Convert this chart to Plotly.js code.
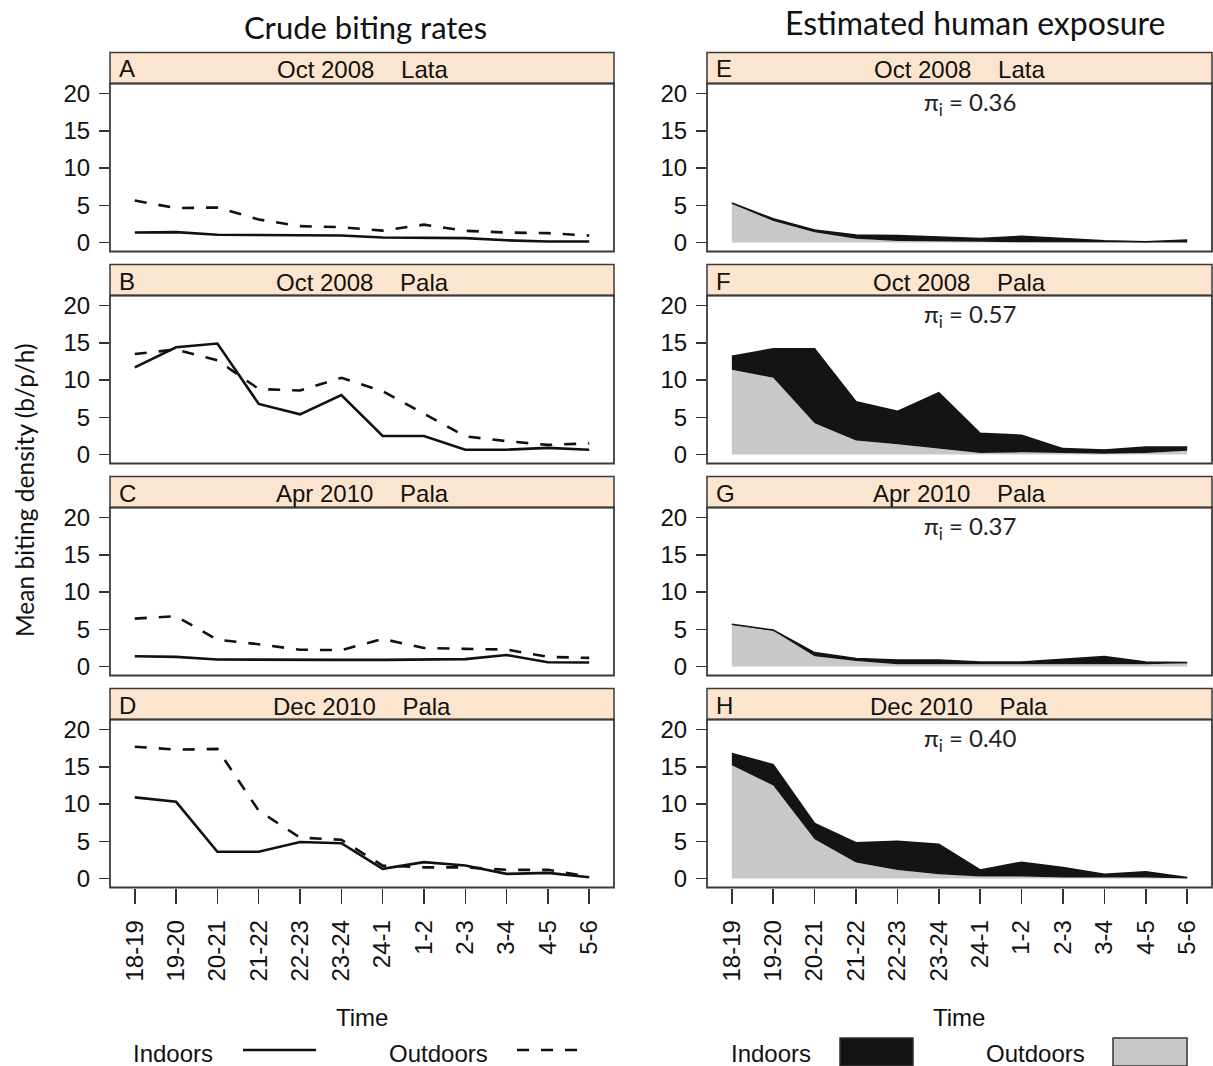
<!DOCTYPE html>
<html>
<head>
<meta charset="utf-8">
<script src="https://cdn.plot.ly/plotly-3.0.1.min.js"></script>
<style>html,body{margin:0;padding:0;background:#fff;}#chart{width:1213px;height:1066px;}</style>
</head>
<body>
<div id="chart"></div>
<script>
// ---------- data ----------
const times = ['18-19','19-20','20-21','21-22','22-23','23-24','24-1','1-2','2-3','3-4','4-5','5-6'];

// Crude biting rates (b/p/h)
const A_in  = [1.35, 1.4, 1.05, 1.0, 1.0, 0.95, 0.67, 0.67, 0.6, 0.3, 0.15, 0.15];
const A_out = [5.65, 4.62, 4.71, 3.1, 2.2, 2.06, 1.6, 2.4, 1.57, 1.35, 1.26, 0.94];
const B_in  = [11.7, 14.4, 14.9, 6.8, 5.4, 8.0, 2.5, 2.5, 0.65, 0.65, 0.9, 0.65];
const B_out = [13.5, 14.1, 12.65, 8.8, 8.6, 10.3, 8.5, 5.5, 2.45, 1.8, 1.3, 1.5];
const C_in  = [1.39, 1.3, 0.95, 0.9, 0.9, 0.9, 0.9, 0.9, 1.0, 1.55, 0.58, 0.55];
const C_out = [6.44, 6.75, 3.6, 3.0, 2.26, 2.2, 3.7, 2.5, 2.37, 2.28, 1.3, 1.16];
const D_in  = [10.9, 10.3, 3.6, 3.6, 4.9, 4.75, 1.3, 2.2, 1.75, 0.63, 0.76, 0.18];
const D_out = [17.7, 17.3, 17.4, 9.1, 5.5, 5.2, 1.74, 1.5, 1.5, 1.17, 1.17, 0.27];

// Estimated human exposure (stacked: outdoor component + indoor component)
const E_out = [5.2, 2.9, 1.4, 0.5, 0.2, 0.1, 0.1, 0.05, 0.05, 0.05, 0.0, 0.0];
const E_in  = [0.1, 0.3, 0.3, 0.5, 0.75, 0.65, 0.45, 0.8, 0.5, 0.2, 0.1, 0.35];
const F_out = [11.4, 10.3, 4.2, 1.9, 1.4, 0.8, 0.2, 0.3, 0.2, 0.1, 0.2, 0.5];
const F_in  = [1.8, 3.9, 10.0, 5.2, 4.4, 7.5, 2.65, 2.3, 0.6, 0.5, 0.8, 0.5];
const G_out = [5.6, 4.8, 1.4, 0.76, 0.3, 0.3, 0.2, 0.2, 0.2, 0.2, 0.3, 0.45];
const G_in  = [0.08, 0.1, 0.48, 0.31, 0.59, 0.59, 0.42, 0.42, 0.78, 1.14, 0.32, 0.08];
const H_out = [15.2, 12.5, 5.26, 2.14, 1.15, 0.57, 0.27, 0.27, 0.13, 0.13, 0.13, 0.0];
const H_in  = [1.6, 2.8, 2.14, 2.66, 3.85, 4.03, 0.88, 1.93, 1.34, 0.44, 0.77, 0.13];

const leftLetters  = ['A','B','C','D'];
const rightLetters = ['E','F','G','H'];
const panelTitles  = ['Oct 2008\u00A0\u00A0\u00A0\u00A0Lata','Oct 2008\u00A0\u00A0\u00A0\u00A0Pala','Apr 2010\u00A0\u00A0\u00A0\u00A0Pala','Dec 2010\u00A0\u00A0\u00A0\u00A0Pala'];
const piValues     = ['0.36','0.57','0.37','0.40'];
const yTicks       = [0, 5, 10, 15, 20];
const colTitles    = ['Crude biting rates','Estimated human exposure'];
const yTitle       = 'Mean biting density (b/p/h)';
const xTitle       = 'Time';
const legendLabels = ['Indoors','Outdoors'];

const crude = [[A_in,A_out],[B_in,B_out],[C_in,C_out],[D_in,D_out]];
const expo  = [[E_in,E_out],[F_in,F_out],[G_in,G_out],[H_in,H_out]];

// ---------- layout geometry (pixels) ----------
const W = 1213, H = 1066;
const cols = [{x0:110, x1:614}, {x0:707, x1:1212}];
const px = v => v / W;
const py = v => 1 - v / H;
const rowTop = i => 52.5 + 212 * i;

const traces = [];
const layout = {
  width: W, height: H,
  margin: {l:0, r:0, t:0, b:0},
  paper_bgcolor: '#fff', plot_bgcolor: '#fff',
  showlegend: false,
  font: {family: 'Liberation Sans, Arial, sans-serif', color: '#111'},
  shapes: [], annotations: []
};

const headerFill = '#FCE5CF';
const borderCol = '#3a3a3a';
const tickFont = {family:'Liberation Sans, Arial, sans-serif', size:24, color:'#111'};

let axisIdx = 0;
for (let c = 0; c < 2; c++) {
  for (let r = 0; r < 4; r++) {
    axisIdx++;
    const xa = axisIdx === 1 ? 'xaxis' : 'xaxis' + axisIdx;
    const ya = axisIdx === 1 ? 'yaxis' : 'yaxis' + axisIdx;
    const xr = axisIdx === 1 ? 'x' : 'x' + axisIdx;
    const yr = axisIdx === 1 ? 'y' : 'y' + axisIdx;
    const top = rowTop(r), pTop = top + 31, pBot = top + 199;
    const {x0, x1} = cols[c];
    const bottom = r === 3;

    layout[xa] = {
      domain: [px(x0), px(x1)], anchor: yr,
      type: 'category', categoryarray: times, categoryorder: 'array',
      range: [-0.6, 11.6],
      showgrid: false, zeroline: false, showline: false,
      ticks: bottom ? 'outside' : '', ticklen: 15, tickwidth: 1.5, tickcolor: '#333',
      showticklabels: bottom, tickangle: -90, tickfont: {family:'Liberation Sans, Arial, sans-serif', size:24, color:'#111'},
      ticklabelstandoff: 7,
      fixedrange: true
    };
    layout[ya] = {
      domain: [py(pBot), py(pTop)], anchor: xr,
      range: [-1.2, 21.35],
      tickvals: yTicks, ticktext: yTicks.map(String),
      showgrid: false, zeroline: false, showline: false,
      ticks: 'outside', ticklen: 10, tickwidth: 1.5, tickcolor: '#333',
      tickfont: tickFont, ticklabelstandoff: 4,
      fixedrange: true
    };

    // header strip
    layout.shapes.push({type:'rect', xref:'paper', yref:'paper',
      x0: px(x0), x1: px(x1), y0: py(pTop), y1: py(top),
      fillcolor: headerFill, line:{color:borderCol, width:1.5}, layer:'below'});
    // plot frame
    layout.shapes.push({type:'rect', xref:'paper', yref:'paper',
      x0: px(x0), x1: px(x1), y0: py(pBot), y1: py(pTop),
      fillcolor: 'rgba(0,0,0,0)', line:{color:borderCol, width:1.8}, layer:'above'});

    const hc = (top + pTop) / 2;
    layout.annotations.push({xref:'paper', yref:'paper', x: px(x0 + 7), y: py(hc + 1),
      xanchor:'left', yanchor:'middle', showarrow:false,
      text: c === 0 ? leftLetters[r] : rightLetters[r],
      font:{family:'Liberation Sans, Arial, sans-serif', size:24, color:'#111'}});
    layout.annotations.push({xref:'paper', yref:'paper', x: px((x0 + x1) / 2), y: py(hc + 2),
      xanchor:'center', yanchor:'middle', showarrow:false,
      text: panelTitles[r],
      font:{family:'Liberation Sans, Arial, sans-serif', size:24, color:'#111'}});

    if (c === 0) {
      const [ind, outd] = crude[r];
      traces.push({type:'scatter', mode:'lines', x: times, y: outd, xaxis: xr, yaxis: yr,
        line:{color:'#111', width:2.6, dash:'12px,12px'}, hoverinfo:'skip'});
      traces.push({type:'scatter', mode:'lines', x: times, y: ind, xaxis: xr, yaxis: yr,
        line:{color:'#111', width:2.6}, hoverinfo:'skip'});
    } else {
      const [ind, outd] = expo[r];
      traces.push({type:'scatter', mode:'lines', x: times, y: outd, xaxis: xr, yaxis: yr,
        stackgroup: 'st' + r, fillcolor:'#C8C8C8', line:{color:'#C8C8C8', width:0}, hoverinfo:'skip'});
      traces.push({type:'scatter', mode:'lines', x: times, y: ind, xaxis: xr, yaxis: yr,
        stackgroup: 'st' + r, fillcolor:'#141414', line:{color:'#141414', width:1.5}, hoverinfo:'skip'});
      layout.annotations.push({xref:'paper', yref:'paper', x: px(970), y: py(pTop + 20),
        xanchor:'center', yanchor:'middle', showarrow:false,
        text: 'π<sub>i</sub> = ' + piValues[r],
        font:{family:'Lato, Open Sans, sans-serif', size:24, color:'#222'}});
    }
  }
}

// column titles
layout.annotations.push({xref:'paper', yref:'paper', x: px(365), y: py(27), xanchor:'center', yanchor:'middle',
  showarrow:false, text: colTitles[0], font:{family:'Lato, Open Sans, sans-serif', size:31, color:'#111'}});
layout.annotations.push({xref:'paper', yref:'paper', x: px(975), y: py(22), xanchor:'center', yanchor:'middle',
  showarrow:false, text: colTitles[1], font:{family:'Lato, Open Sans, sans-serif', size:32, color:'#111'}});
// y title
layout.annotations.push({xref:'paper', yref:'paper', x: px(25), y: py(490), xanchor:'center', yanchor:'middle',
  showarrow:false, textangle:-90, text: yTitle, font:{family:'Lato, Open Sans, sans-serif', size:24.5, color:'#111'}});
// x titles
[362, 959].forEach(cx => layout.annotations.push({xref:'paper', yref:'paper', x: px(cx), y: py(1017),
  xanchor:'center', yanchor:'middle', showarrow:false, text: xTitle,
  font:{family:'Liberation Sans, Arial, sans-serif', size:24, color:'#111'}}));

// legends
const legY = 1053;
const legText = (x, t) => layout.annotations.push({xref:'paper', yref:'paper', x: px(x), y: py(legY),
  xanchor:'center', yanchor:'middle', showarrow:false, text: t,
  font:{family:'Liberation Sans, Arial, sans-serif', size:24, color:'#111'}});
legText(173, legendLabels[0]);
legText(438, legendLabels[1]);
legText(771, legendLabels[0]);
legText(1035, legendLabels[1]);
layout.shapes.push({type:'line', xref:'paper', yref:'paper', x0:px(243), x1:px(316), y0:py(1050), y1:py(1050),
  line:{color:'#111', width:2.6}});
layout.shapes.push({type:'line', xref:'paper', yref:'paper', x0:px(517), x1:px(583), y0:py(1050), y1:py(1050),
  line:{color:'#111', width:2.6, dash:'12px,12px'}});
layout.shapes.push({type:'rect', xref:'paper', yref:'paper', x0:px(840), x1:px(913), y0:py(1066), y1:py(1038),
  fillcolor:'#141414', line:{color:'#333', width:1.5}});
layout.shapes.push({type:'rect', xref:'paper', yref:'paper', x0:px(1113), x1:px(1187), y0:py(1066), y1:py(1038),
  fillcolor:'#C8C8C8', line:{color:'#333', width:1.5}});

Plotly.newPlot('chart', traces, layout, {staticPlot:true, displayModeBar:false});
</script>
</body>
</html>
